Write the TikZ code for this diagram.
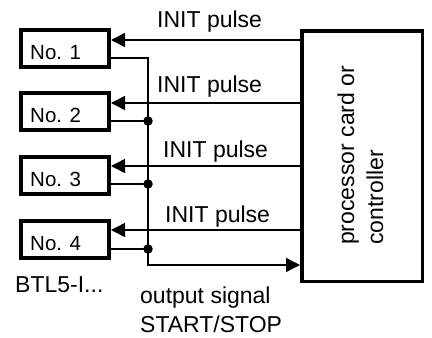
\documentclass[tikz,border=0pt]{standalone}
\usepackage{fontspec}
\setmainfont{Liberation Sans}
\usetikzlibrary{arrows.meta}
\tikzset{
  sensor/.style={draw, line width=4pt, rectangle, minimum width=88pt, minimum height=37pt, inner sep=0pt},
  procbox/.style={draw, line width=3.5pt, rectangle, minimum width=120.5pt, minimum height=250.5pt, inner sep=0pt},
  sig/.style={line width=1.4pt},
  tip/.style={-{Triangle[length=14pt,width=14pt]}},
  dot/.style={circle, fill, inner sep=0pt, minimum size=9.5pt},
  lbl/.style={anchor=base west, inner sep=0pt, font=\fontsize{23}{27}\selectfont},
  boxlbl/.style={anchor=base west, inner sep=0pt, font=\fontsize{20.5}{24}\selectfont},
}
\begin{document}
\begin{tikzpicture}[x=1pt,y=-1pt]
\useasboundingbox (0,0) rectangle (432,338);
% sensor boxes
\node[sensor] (n1) at (65,48.5) {};
\node[sensor] (n2) at (65,111.5) {};
\node[sensor] (n3) at (65,175.5) {};
\node[sensor] (n4) at (65,239.5) {};
\node[boxlbl] (t1) at (30,59) {No. 1};
\node[boxlbl] (t2) at (30,122.5) {No. 2};
\node[boxlbl] (t3) at (30,186.5) {No. 3};
\node[boxlbl] (t4) at (30,250.5) {No. 4};
% processor
\node[procbox] (proc) at (362,156) {};
\node[lbl, rotate=90] (p1) at (354,245) {processor card or};
\node[lbl, rotate=90] (p2) at (383,245) {controller};
% INIT levels
\coordinate (i1) at (0,40);
\coordinate (i2) at (0,103);
\coordinate (i3) at (0,166);
\coordinate (i4) at (0,230);
\draw[sig,tip] (proc.west |- i1) -- (n1.east |- i1);
\draw[sig,tip] (proc.west |- i2) -- (n2.east |- i2);
\draw[sig,tip] (proc.west |- i3) -- (n3.east |- i3);
\draw[sig,tip] (proc.west |- i4) -- (n4.east |- i4);
\node[lbl] (l1) at (157,27) {INIT pulse};
\node[lbl] (l2) at (157,92) {INIT pulse};
\node[lbl] (l3) at (163,157) {INIT pulse};
\node[lbl] (l4) at (165,222) {INIT pulse};
% output bus
\coordinate (b1) at (148,58);
\node[dot] (d2) at (148,121) {};
\node[dot] (d3) at (148,184) {};
\node[dot] (d4) at (148,249) {};
\coordinate (bb) at (148,265);
\draw[sig,tip] (n1.east |- b1) -- (b1) -- (bb) -- (proc.west |- bb);
\draw[sig] (n2.east |- d2) -- (d2.center);
\draw[sig] (n3.east |- d3) -- (d3.center);
\draw[sig] (n4.east |- d4) -- (d4.center);
% labels
\node[lbl] (btl) at (15,292) {BTL5-I...};
\node[lbl] (o1) at (140,303) {output signal};
\node[lbl] (o2) at (140,332) {START/STOP};
\end{tikzpicture}
\end{document}
